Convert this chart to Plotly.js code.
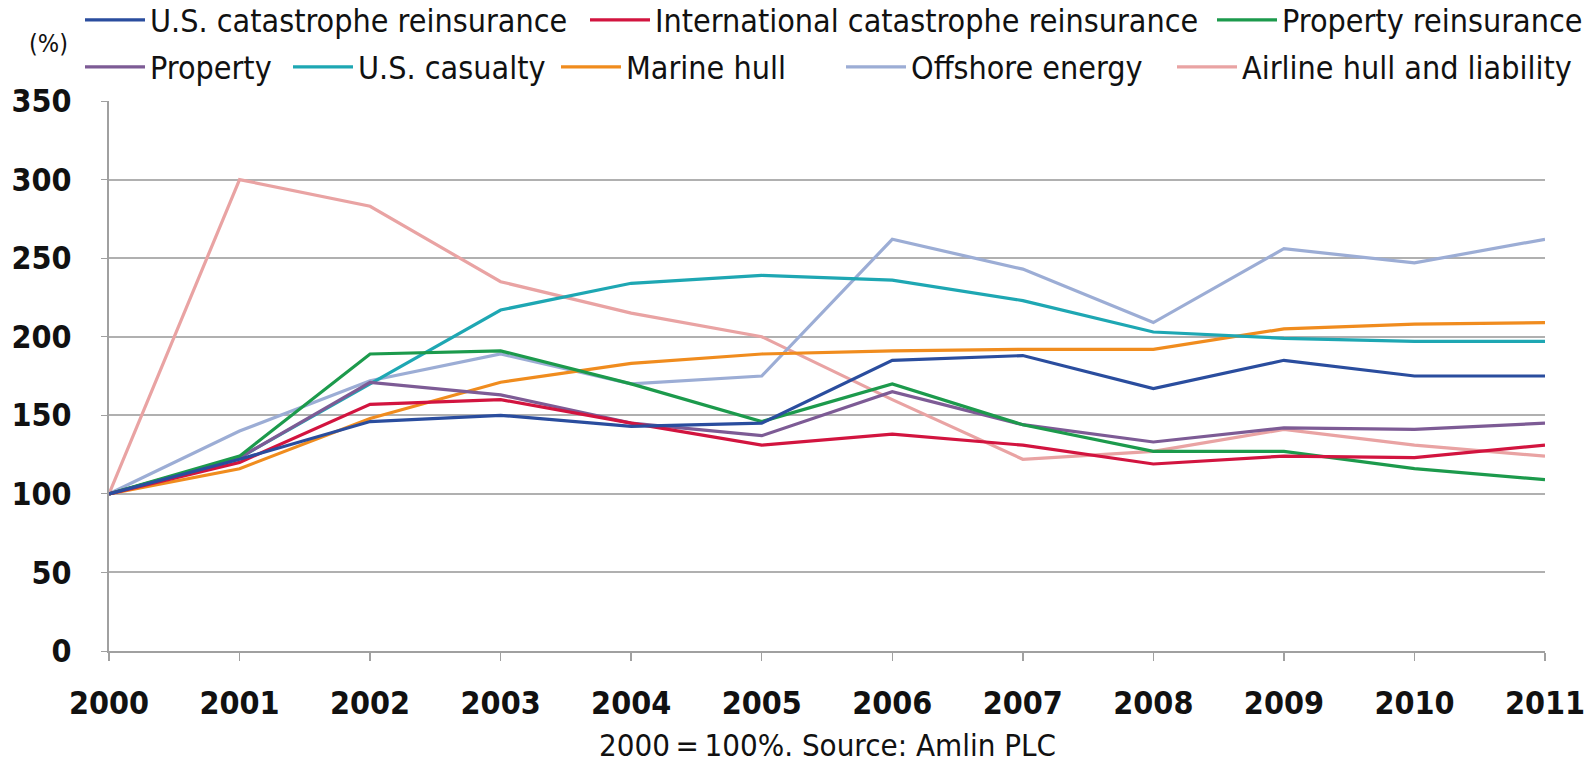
<!DOCTYPE html>
<html>
<head>
<meta charset="utf-8">
<script src="https://cdn.plot.ly/plotly-3.0.1.min.js"></script>
<style>html,body{margin:0;padding:0;background:#fff;}#chart{width:1596px;height:762px;}</style>
</head>
<body>
<div id="chart"></div>
<script>
const years = [2000,2001,2002,2003,2004,2005,2006,2007,2008,2009,2010,2011];
const seriesNames = ["U.S. catastrophe reinsurance","International catastrophe reinsurance","Property reinsurance","Property","U.S. casualty","Marine hull","Offshore energy","Airline hull and liability"];
const usCatReins   = [100,122,146,150,143,145,185,188,167,185,175,175];
const intlCatReins = [100,120,157,160,145,131,138,131,119,124,123,131];
const propReins    = [100,124,189,191,170,146,170,144,127,127,116,109];
const property     = [100,123,171,163,145,137,165,144,133,142,141,145];
const usCasualty   = [100,123,170,217,234,239,236,223,203,199,197,197];
const marineHull   = [100,116,148,171,183,189,191,192,192,205,208,209];
const offshore     = [100,140,172,189,170,175,262,243,209,256,247,262];
const airline      = [100,300,283,235,215,200,160,122,127,141,131,124];
const yTicks = [0,50,100,150,200,250,300,350];
const sourceNote = "2000\u2009=\u2009100%. Source: Amlin PLC";
const unitLabel = "(%)";

const values = [usCatReins,intlCatReins,propReins,property,usCasualty,marineHull,offshore,airline];
const colors = ["#2a4d9e","#d2143f","#1c9a4c","#7d5b95","#1ea7b3","#f08c1e","#9cadd5","#e9a3a3"];
// legend text start positions (px) and rows
const legX = [150,655,1282,150,358,626,911,1242];
const legY = [20,20,20,67,67,67,67,67];
const FONT = "'DejaVu Sans Condensed','Liberation Sans Narrow','Arial Narrow',sans-serif";

const traces = values.map((v,i)=>({
  x: years, y: v, type:'scatter', mode:'lines', name: seriesNames[i],
  line:{color:colors[i], width:3.2},
  legend: i===0 ? 'legend' : 'legend'+(i+1)
}));
const order = [7,6,5,4,3,2,1,0];
const data = order.map(i=>traces[i]);

const layout = {
  width:1596, height:762,
  margin:{l:109, r:51, t:101, b:110.5},
  paper_bgcolor:'#fff', plot_bgcolor:'#fff',
  font:{family:FONT, color:'#111', size:30},
  xaxis:{range:[2000,2011], tickvals:years, ticktext:years.map(String),
    showgrid:false, showline:true, linecolor:'#a0a0a0', linewidth:2,
    ticks:'outside', ticklen:8, tickcolor:'#a0a0a0', tickwidth:1.5,
    tickfont:{family:FONT, size:32, color:'#111', weight:'bold'}, ticklabelstandoff:15, zeroline:false},
  yaxis:{range:[0,350], tickvals:yTicks, showgrid:true, gridcolor:'#b0b0b0', gridwidth:2,
    showline:true, linecolor:'#a0a0a0', linewidth:2, ticks:'outside', ticklen:6, tickcolor:'#a0a0a0',
    tickfont:{family:FONT, size:32, color:'#111', weight:'bold'}, ticklabelstandoff:23, zeroline:false},
  showlegend:true,
  annotations:[
    {text:sourceNote, xref:'paper', yref:'paper', x:0.5, y:(651.5-746)/550.5, xanchor:'center', yanchor:'middle', showarrow:false, font:{family:FONT, size:31, color:'#111'}},
    {text:unitLabel, xref:'paper', yref:'paper', x:(48-109)/1436, y:(651.5-43)/550.5, xanchor:'center', yanchor:'middle', showarrow:false, font:{family:FONT, size:25, color:'#111'}}
  ]
};
for(let i=0;i<8;i++){
  const key = i===0 ? 'legend' : 'legend'+(i+1);
  layout[key] = {xref:'container', yref:'container', x:(legX[i]-70)/1596, y:1-legY[i]/762,
    xanchor:'left', yanchor:'middle', orientation:'h', bgcolor:'rgba(0,0,0,0)', borderwidth:0,
    itemwidth:60, font:{family:FONT, size:32, color:'#111'}};
}
Plotly.newPlot('chart', data, layout, {staticPlot:true});
</script>
</body>
</html>
